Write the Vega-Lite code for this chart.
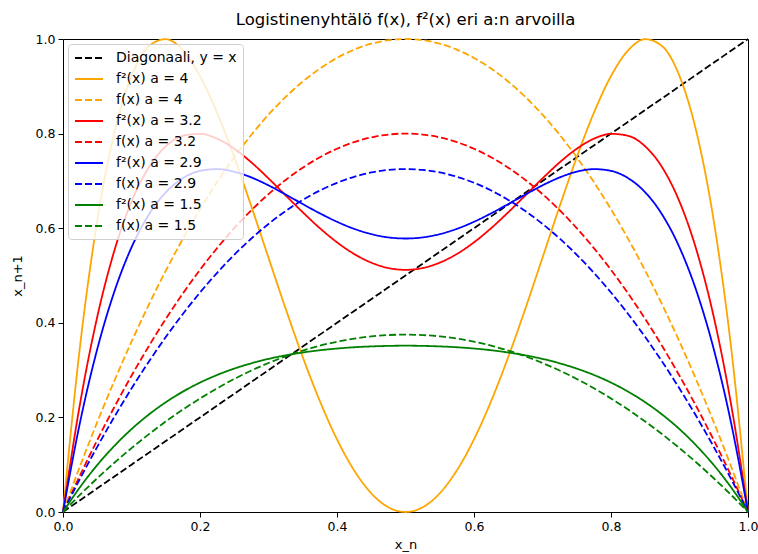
{
  "$schema": "https://vega.github.io/schema/vega-lite/v6.json",
  "width": 685,
  "height": 473,
  "autosize": {"type": "none"},
  "padding": {"left": 63, "top": 39, "right": 10, "bottom": 42},
  "background": "white",
  "title": {"text": "Logistinenyhtälö f(x), f²(x) eri a:n arvoilla", "font": "DejaVu Sans", "fontSize": 16.5, "fontWeight": "normal", "color": "black", "offset": 5},
  "data": {
    "values": [
      {"x": 0, "d": 0, "g4": 0, "f4": 0, "g32": 0, "f32": 0, "g29": 0, "f29": 0, "g15": 0, "f15": 0},
      {"x": 0.025, "d": 0.025, "g4": 0.352, "f4": 0.0975, "g32": 0.2301, "f32": 0.078, "g29": 0.1905, "f29": 0.0707, "g15": 0.0528, "f15": 0.0366},
      {"x": 0.05, "d": 0.05, "g4": 0.6156, "f4": 0.19, "g32": 0.4125, "f32": 0.152, "g29": 0.3444, "f29": 0.1378, "g15": 0.0993, "f15": 0.0713},
      {"x": 0.075, "d": 0.075, "g4": 0.802, "f4": 0.2775, "g32": 0.5527, "f32": 0.222, "g29": 0.4661, "f29": 0.2012, "g15": 0.1398, "f15": 0.1041},
      {"x": 0.1, "d": 0.1, "g4": 0.9216, "f4": 0.36, "g32": 0.6562, "f32": 0.288, "g29": 0.5594, "f29": 0.261, "g15": 0.1752, "f15": 0.135},
      {"x": 0.125, "d": 0.125, "g4": 0.9844, "f4": 0.4375, "g32": 0.728, "f32": 0.35, "g29": 0.6281, "f29": 0.3172, "g15": 0.2057, "f15": 0.1641},
      {"x": 0.15, "d": 0.15, "g4": 0.9996, "f4": 0.51, "g32": 0.7729, "f32": 0.408, "g29": 0.6758, "f29": 0.3698, "g15": 0.232, "f15": 0.1913},
      {"x": 0.175, "d": 0.175, "g4": 0.976, "f4": 0.5775, "g32": 0.7954, "f32": 0.462, "g29": 0.7058, "f29": 0.4187, "g15": 0.2545, "f15": 0.2166},
      {"x": 0.2, "d": 0.2, "g4": 0.9216, "f4": 0.64, "g32": 0.7995, "f32": 0.512, "g29": 0.7212, "f29": 0.464, "g15": 0.2736, "f15": 0.24},
      {"x": 0.225, "d": 0.225, "g4": 0.844, "f4": 0.6975, "g32": 0.7892, "f32": 0.558, "g29": 0.7249, "f29": 0.5057, "g15": 0.2897, "f15": 0.2616},
      {"x": 0.25, "d": 0.25, "g4": 0.75, "f4": 0.75, "g32": 0.768, "f32": 0.6, "g29": 0.7195, "f29": 0.5438, "g15": 0.3032, "f15": 0.2813},
      {"x": 0.275, "d": 0.275, "g4": 0.646, "f4": 0.7975, "g32": 0.7391, "f32": 0.638, "g29": 0.7073, "f29": 0.5782, "g15": 0.3144, "f15": 0.2991},
      {"x": 0.3, "d": 0.3, "g4": 0.5376, "f4": 0.84, "g32": 0.7053, "f32": 0.672, "g29": 0.6906, "f29": 0.609, "g15": 0.3237, "f15": 0.315},
      {"x": 0.325, "d": 0.325, "g4": 0.43, "f4": 0.8775, "g32": 0.6694, "f32": 0.702, "g29": 0.6712, "f29": 0.6362, "g15": 0.3312, "f15": 0.3291},
      {"x": 0.35, "d": 0.35, "g4": 0.3276, "f4": 0.91, "g32": 0.6337, "f32": 0.728, "g29": 0.651, "f29": 0.6598, "g15": 0.3372, "f15": 0.3413},
      {"x": 0.375, "d": 0.375, "g4": 0.2344, "f4": 0.9375, "g32": 0.6, "f32": 0.75, "g29": 0.6314, "f29": 0.6797, "g15": 0.342, "f15": 0.3516},
      {"x": 0.4, "d": 0.4, "g4": 0.1536, "f4": 0.96, "g32": 0.5702, "f32": 0.768, "g29": 0.6136, "f29": 0.696, "g15": 0.3456, "f15": 0.36},
      {"x": 0.425, "d": 0.425, "g4": 0.088, "f4": 0.9775, "g32": 0.5455, "f32": 0.782, "g29": 0.5987, "f29": 0.7087, "g15": 0.3483, "f15": 0.3666},
      {"x": 0.45, "d": 0.45, "g4": 0.0396, "f4": 0.99, "g32": 0.5272, "f32": 0.792, "g29": 0.5875, "f29": 0.7178, "g15": 0.3501, "f15": 0.3713},
      {"x": 0.475, "d": 0.475, "g4": 0.01, "f4": 0.9975, "g32": 0.5158, "f32": 0.798, "g29": 0.5805, "f29": 0.7232, "g15": 0.3512, "f15": 0.3741},
      {"x": 0.5, "d": 0.5, "g4": 0, "f4": 1, "g32": 0.512, "f32": 0.8, "g29": 0.5782, "f29": 0.725, "g15": 0.3516, "f15": 0.375},
      {"x": 0.525, "d": 0.525, "g4": 0.01, "f4": 0.9975, "g32": 0.5158, "f32": 0.798, "g29": 0.5805, "f29": 0.7232, "g15": 0.3512, "f15": 0.3741},
      {"x": 0.55, "d": 0.55, "g4": 0.0396, "f4": 0.99, "g32": 0.5272, "f32": 0.792, "g29": 0.5875, "f29": 0.7178, "g15": 0.3501, "f15": 0.3713},
      {"x": 0.575, "d": 0.575, "g4": 0.088, "f4": 0.9775, "g32": 0.5455, "f32": 0.782, "g29": 0.5987, "f29": 0.7087, "g15": 0.3483, "f15": 0.3666},
      {"x": 0.6, "d": 0.6, "g4": 0.1536, "f4": 0.96, "g32": 0.5702, "f32": 0.768, "g29": 0.6136, "f29": 0.696, "g15": 0.3456, "f15": 0.36},
      {"x": 0.625, "d": 0.625, "g4": 0.2344, "f4": 0.9375, "g32": 0.6, "f32": 0.75, "g29": 0.6314, "f29": 0.6797, "g15": 0.342, "f15": 0.3516},
      {"x": 0.65, "d": 0.65, "g4": 0.3276, "f4": 0.91, "g32": 0.6337, "f32": 0.728, "g29": 0.651, "f29": 0.6598, "g15": 0.3372, "f15": 0.3413},
      {"x": 0.675, "d": 0.675, "g4": 0.43, "f4": 0.8775, "g32": 0.6694, "f32": 0.702, "g29": 0.6712, "f29": 0.6362, "g15": 0.3312, "f15": 0.3291},
      {"x": 0.7, "d": 0.7, "g4": 0.5376, "f4": 0.84, "g32": 0.7053, "f32": 0.672, "g29": 0.6906, "f29": 0.609, "g15": 0.3237, "f15": 0.315},
      {"x": 0.725, "d": 0.725, "g4": 0.646, "f4": 0.7975, "g32": 0.7391, "f32": 0.638, "g29": 0.7073, "f29": 0.5782, "g15": 0.3144, "f15": 0.2991},
      {"x": 0.75, "d": 0.75, "g4": 0.75, "f4": 0.75, "g32": 0.768, "f32": 0.6, "g29": 0.7195, "f29": 0.5438, "g15": 0.3032, "f15": 0.2813},
      {"x": 0.775, "d": 0.775, "g4": 0.844, "f4": 0.6975, "g32": 0.7892, "f32": 0.558, "g29": 0.7249, "f29": 0.5057, "g15": 0.2897, "f15": 0.2616},
      {"x": 0.8, "d": 0.8, "g4": 0.9216, "f4": 0.64, "g32": 0.7995, "f32": 0.512, "g29": 0.7212, "f29": 0.464, "g15": 0.2736, "f15": 0.24},
      {"x": 0.825, "d": 0.825, "g4": 0.976, "f4": 0.5775, "g32": 0.7954, "f32": 0.462, "g29": 0.7058, "f29": 0.4187, "g15": 0.2545, "f15": 0.2166},
      {"x": 0.85, "d": 0.85, "g4": 0.9996, "f4": 0.51, "g32": 0.7729, "f32": 0.408, "g29": 0.6758, "f29": 0.3698, "g15": 0.232, "f15": 0.1913},
      {"x": 0.875, "d": 0.875, "g4": 0.9844, "f4": 0.4375, "g32": 0.728, "f32": 0.35, "g29": 0.6281, "f29": 0.3172, "g15": 0.2057, "f15": 0.1641},
      {"x": 0.9, "d": 0.9, "g4": 0.9216, "f4": 0.36, "g32": 0.6562, "f32": 0.288, "g29": 0.5594, "f29": 0.261, "g15": 0.1752, "f15": 0.135},
      {"x": 0.925, "d": 0.925, "g4": 0.802, "f4": 0.2775, "g32": 0.5527, "f32": 0.222, "g29": 0.4661, "f29": 0.2012, "g15": 0.1398, "f15": 0.1041},
      {"x": 0.95, "d": 0.95, "g4": 0.6156, "f4": 0.19, "g32": 0.4125, "f32": 0.152, "g29": 0.3444, "f29": 0.1378, "g15": 0.0993, "f15": 0.0713},
      {"x": 0.975, "d": 0.975, "g4": 0.352, "f4": 0.0975, "g32": 0.2301, "f32": 0.078, "g29": 0.1905, "f29": 0.0707, "g15": 0.0528, "f15": 0.0366},
      {"x": 1, "d": 1, "g4": 0, "f4": 0, "g32": 0, "f32": 0, "g29": 0, "f29": 0, "g15": 0, "f15": 0}
    ]
  },
  "transform": [
    {"fold": ["d", "g4", "f4", "g32", "f32", "g29", "f29", "g15", "f15"], "as": ["s", "y"]}
  ],
  "mark": {"type": "line", "strokeWidth": 1.8, "interpolate": "monotone"},
  "encoding": {
    "x": {
      "field": "x", "type": "quantitative",
      "scale": {"domain": [0, 1], "nice": false, "zero": false},
      "axis": {"title": "x_n", "values": [0, 0.2, 0.4, 0.6, 0.8, 1], "format": ".1f", "titlePadding": 6}
    },
    "y": {
      "field": "y", "type": "quantitative",
      "scale": {"domain": [0, 1], "nice": false, "zero": false},
      "axis": {"title": "x_n+1", "values": [0, 0.2, 0.4, 0.6, 0.8, 1], "format": ".1f", "titlePadding": 11}
    },
    "color": {
      "field": "s", "type": "nominal",
      "scale": {
        "domain": ["d", "g4", "f4", "g32", "f32", "g29", "f29", "g15", "f15"],
        "range": ["black", "#FFA500", "#FFA500", "#FF0000", "#FF0000", "#0000FF", "#0000FF", "#008000", "#008000"]
      },
      "legend": {
        "title": null,
        "labelExpr": "['Diagonaali, y = x', 'f²(x) a = 4', 'f(x) a = 4', 'f²(x) a = 3.2', 'f(x) a = 3.2', 'f²(x) a = 2.9', 'f(x) a = 2.9', 'f²(x) a = 1.5', 'f(x) a = 1.5'][indexof(['d', 'g4', 'f4', 'g32', 'f32', 'g29', 'f29', 'g15', 'f15'], datum.value)]"
      }
    },
    "strokeDash": {
      "field": "s", "type": "nominal",
      "scale": {
        "domain": ["d", "g4", "f4", "g32", "f32", "g29", "f29", "g15", "f15"],
        "range": [[7, 3], [1, 0], [7, 3], [1, 0], [7, 3], [1, 0], [7, 3], [1, 0], [7, 3]]
      },
      "legend": {
        "title": null,
        "labelExpr": "['Diagonaali, y = x', 'f²(x) a = 4', 'f(x) a = 4', 'f²(x) a = 3.2', 'f(x) a = 3.2', 'f²(x) a = 2.9', 'f(x) a = 2.9', 'f²(x) a = 1.5', 'f(x) a = 1.5'][indexof(['d', 'g4', 'f4', 'g32', 'f32', 'g29', 'f29', 'g15', 'f15'], datum.value)]"
      }
    }
  },
  "config": {
    "view": {"stroke": "black", "strokeWidth": 1},
    "axis": {
      "grid": false, "labelFlush": false,
      "labelFont": "DejaVu Sans", "labelFontSize": 12.5, "labelColor": "black",
      "titleFont": "DejaVu Sans", "titleFontSize": 13, "titleFontWeight": "normal", "titleColor": "black",
      "domainColor": "black", "tickColor": "black", "tickSize": 5, "labelPadding": 3
    },
    "legend": {
      "orient": "top-left", "offset": 5,
      "fillColor": "rgba(255,255,255,0.8)", "strokeColor": "#d0d0d0", "cornerRadius": 3, "padding": 6,
      "labelFont": "DejaVu Sans", "labelFontSize": 14, "labelColor": "black",
      "symbolType": "M-1,0L3,0", "symbolFillColor": "transparent", "symbolStrokeWidth": 1.8, "symbolSize": 196, "rowPadding": 6, "labelOffset": 26
    }
  }
}
